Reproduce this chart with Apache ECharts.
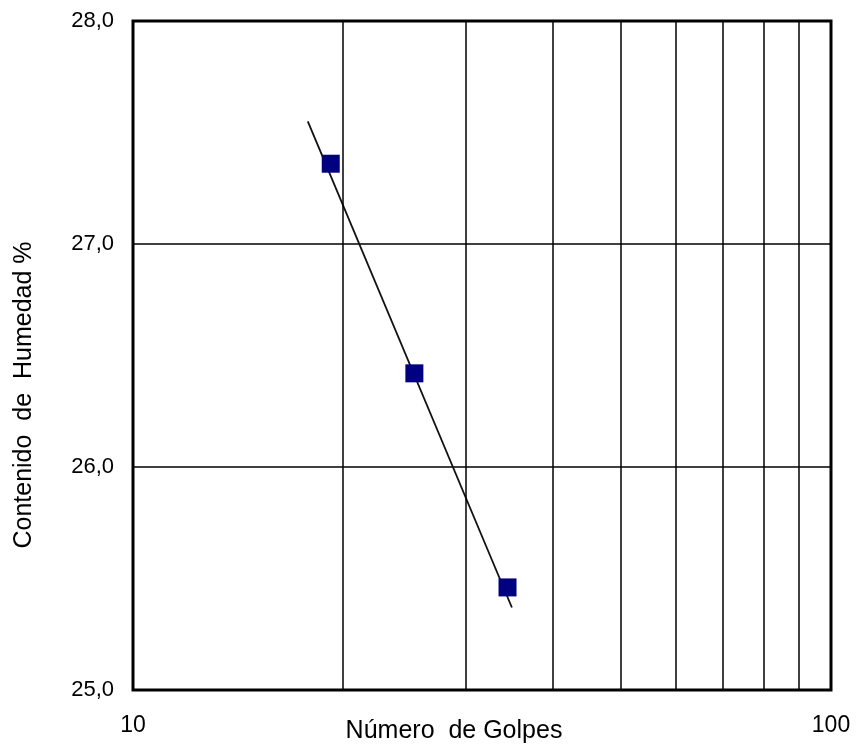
<!DOCTYPE html>
<html>
<head>
<meta charset="utf-8">
<script src="https://cdn.jsdelivr.net/npm/echarts@6/dist/echarts.min.js"></script>
<style>html,body{margin:0;padding:0;background:#fff}#c{width:862px;height:744px}</style>
</head>
<body>
<div id="c"></div>
<script>
// Data
const golpes = [19.2, 25.3, 34.4];
const humedad = [27.36, 26.42, 25.46];
const trendGolpes = [17.8, 34.9];
const trendHumedad = [27.55, 25.37];
const xGridValues = [20, 30, 40, 50, 60, 70, 80, 90];
const xTitle = 'Número  de Golpes';
const yTitle = 'Contenido  de  Humedad %';

const FONT = '"Liberation Sans", Arial, sans-serif';
const chart = echarts.init(document.getElementById('c'), null, {renderer: 'canvas'});
chart.setOption({
  animation: false,
  backgroundColor: '#fff',
  grid: {left: 133, top: 21, width: 698, height: 669, show: true, borderColor: '#000', borderWidth: 3, backgroundColor: 'transparent'},
  xAxis: {
    type: 'log', logBase: 10, min: 10, max: 100,
    axisLine: {show: false}, axisTick: {show: false},
    splitLine: {show: false}, minorSplitLine: {show: false},
    axisLabel: {fontSize: 23, fontFamily: FONT, color: '#000', margin: 24}
  },
  yAxis: {
    type: 'value', min: 25, max: 28, interval: 1,
    axisLine: {show: false}, axisTick: {show: false},
    splitLine: {show: true, lineStyle: {color: '#000', width: 1.5}},
    axisLabel: {fontSize: 22, fontFamily: FONT, color: '#000', margin: 19,
      formatter: v => v.toFixed(1).replace('.', ',')}
  },
  graphic: [
    {type: 'text', x: 454, y: 731, style: {text: xTitle, font: '25px ' + FONT, fill: '#000', textAlign: 'center', textVerticalAlign: 'middle'}},
    {type: 'text', rotation: Math.PI / 2, x: 24, y: 395, style: {text: yTitle, font: '25px ' + FONT, fill: '#000', textAlign: 'center', textVerticalAlign: 'middle'}}
  ],
  series: [
    {
      type: 'line', data: [], silent: true, z: 1,
      markLine: {silent: true, symbol: ['none', 'none'], label: {show: false},
        lineStyle: {type: 'solid', color: '#000', width: 1.5},
        data: xGridValues.map(v => ({xAxis: v}))}
    },
    {
      type: 'line', z: 3, symbol: 'none', silent: true,
      data: trendGolpes.map((g, i) => [g, trendHumedad[i]]),
      lineStyle: {color: '#111', width: 1.8}
    },
    {
      type: 'scatter', z: 4, symbol: 'rect', symbolSize: 18,
      itemStyle: {color: '#000080', opacity: 1},
      data: golpes.map((g, i) => [g, humedad[i]])
    }
  ]
});
</script>
</body>
</html>
